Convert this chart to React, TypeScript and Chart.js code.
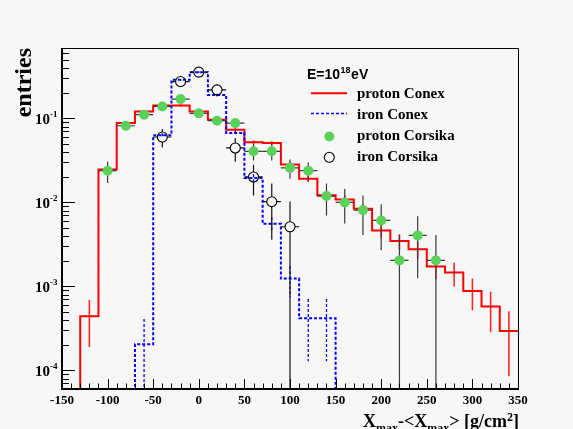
import { useEffect, useRef } from 'react';
import { Chart, registerables } from 'chart.js';
Chart.register(...registerables);

// ---------- data ----------
const binEdges = [-150, -130, -110, -90, -70, -50, -30, -10, 10, 30, 50, 70, 90, 110, 130, 150, 170, 190, 210, 230, 250, 270, 290, 310, 330, 350];

const protonConex = [0, 4.4e-4, 0.0246, 0.088, 0.121, 0.143, 0.143, 0.121, 0.0965, 0.0734, 0.052, 0.051, 0.0282, 0.0192, 0.0122, 0.0108, 0.0084, 0.00463, 0.00347, 0.00276, 0.00172, 0.00146, 8.8e-4, 5.75e-4, 2.95e-4];
const protonConexErr = [0, 2.5e-4, 1.9e-3, 3.6e-3, 4.2e-3, 4.6e-3, 4.6e-3, 4.2e-3, 3.8e-3, 3.3e-3, 2.8e-3, 2.7e-3, 2.0e-3, 1.7e-3, 1.3e-3, 1.3e-3, 1.1e-3, 8.3e-4, 7.1e-4, 6.4e-4, 5.0e-4, 4.6e-4, 3.6e-4, 2.9e-4, 2.1e-4];

const ironConex = [0, 0, 0, 0, 2.05e-4, 0.063, 0.288, 0.356, 0.19, 0.067, 0.0196, 0.00557, 1.24e-3, 4.18e-4, 4.18e-4, 0, 0, 0, 0, 0, 0, 0, 0, 0, 0];
const ironConexErr = [0, 0, 0, 0, 2.05e-4, 3.6e-3, 7.7e-3, 8.5e-3, 6.2e-3, 3.7e-3, 2.0e-3, 1.07e-3, 5.0e-4, 2.9e-4, 2.9e-4, 0, 0, 0, 0, 0, 0, 0, 0, 0, 0];

const protonCorsikaX = [-100, -80, -60, -40, -20, 0, 20, 40, 60, 80, 100, 120, 140, 160, 180, 200, 220, 240, 260];
const protonCorsikaY = [0.0239, 0.0819, 0.111, 0.139, 0.17, 0.115, 0.094, 0.088, 0.0406, 0.0406, 0.0258, 0.0239, 0.0119, 0.010, 0.0081, 0.0061, 0.00204, 0.00405, 0.00204];
const protonCorsikaErr = [0.0069, 0.01, 0.012, 0.013, 0.015, 0.012, 0.011, 0.01, 0.009, 0.009, 0.0067, 0.006, 0.0049, 0.0044, 0.004, 0.0034, 0.00204, 0.0028, 0.00204];

const ironCorsikaX = [-40, -20, 0, 20, 40, 60, 80, 100];
const ironCorsikaY = [0.0601, 0.275, 0.356, 0.219, 0.0445, 0.0201, 0.0102, 0.00513];
const ironCorsikaErr = [0.015, 0.035, 0.03, 0.035, 0.014, 0.008, 0.0066, 0.0051];

const xTickLabels = [-150, -100, -50, 0, 50, 100, 150, 200, 250, 300, 350];
const yDecadeExponents = [-4, -3, -2, -1];
const legendLabels = ['proton Conex', 'iron Conex', 'proton Corsika', 'iron Corsika'];
const legendTitle = { base: 'E=10', sup: '18', unit: 'eV' };
const xMin = -150;
const xMax = 350;
const yMin = 6e-5;
const yMax = 0.69;
const pointHalfBin = 10;

// ---------- styles ----------
const BG = '#f7f7f7';
const RED = '#ff0000';
const BLUE = '#0000ff';
const GREEN = '#5ad25a';
const SERIF = '"Liberation Serif", "Times New Roman", serif';
const SANS = '"Liberation Sans", Arial, sans-serif';

// empty bins are drawn on the axis floor, as ROOT does on a log axis
const histPoints = (vals: number[]) =>
  binEdges.map((x, i) => {
    const v = vals[Math.min(i, vals.length - 1)];
    return { x, y: v > 0 ? v : yMin };
  });
const binCenters = binEdges.slice(0, -1).map((e, i) => (e + binEdges[i + 1]) / 2);

type ErrSpec = {
  xs: number[]; ys: number[]; es: number[];
  color: string; width: number; dash?: number[]; xHalf?: number; gap?: number;
};

// indexed by dataset index
const errorSpecs: Record<number, ErrSpec> = {
  0: { xs: ironCorsikaX, ys: ironCorsikaY, es: ironCorsikaErr, color: '#111', width: 1.2, xHalf: pointHalfBin, gap: 5 },
  1: { xs: protonCorsikaX, ys: protonCorsikaY, es: protonCorsikaErr, color: '#3a3a3a', width: 1.2, xHalf: pointHalfBin },
  2: { xs: binCenters, ys: ironConex, es: ironConexErr, color: BLUE, width: 1.3, dash: [3, 2] },
  3: { xs: binCenters, ys: protonConex, es: protonConexErr, color: 'rgba(255,0,0,0.85)', width: 1.6 },
};

const rootPlugin = {
  id: 'rootStyle',
  beforeDraw(chart: any) {
    const ctx = chart.ctx;
    ctx.save();
    ctx.fillStyle = BG;
    ctx.fillRect(0, 0, chart.width, chart.height);
    ctx.restore();
  },
  beforeDatasetDraw(chart: any, args: any) {
    const spec = errorSpecs[args.index];
    if (!spec) return;
    const ctx = chart.ctx;
    const xs = chart.scales.x;
    const ys = chart.scales.y;
    const { left, right, top, bottom } = chart.chartArea;
    ctx.save();
    ctx.beginPath();
    ctx.rect(left, top, right - left, bottom - top);
    ctx.clip();
    ctx.strokeStyle = spec.color;
    ctx.lineWidth = spec.width;
    ctx.setLineDash(spec.dash || []);
    const gap = spec.gap || 0;
    for (let i = 0; i < spec.xs.length; i++) {
      const v = spec.ys[i];
      const e = spec.es[i];
      if (!(v > 0) || !(e > 0)) continue;
      const px = xs.getPixelForValue(spec.xs[i]);
      const py = ys.getPixelForValue(v);
      const pHi = ys.getPixelForValue(v + e);
      const pLo = v - e > 0 ? ys.getPixelForValue(v - e) : bottom + 3;
      ctx.beginPath();
      if (gap) {
        if (py - gap > pHi) { ctx.moveTo(px, pHi); ctx.lineTo(px, py - gap); }
        if (pLo > py + gap) { ctx.moveTo(px, py + gap); ctx.lineTo(px, pLo); }
      } else {
        ctx.moveTo(px, pHi);
        ctx.lineTo(px, pLo);
      }
      if (spec.xHalf) {
        const xl = xs.getPixelForValue(spec.xs[i] - spec.xHalf);
        const xr = xs.getPixelForValue(spec.xs[i] + spec.xHalf);
        ctx.moveTo(xl, py);
        ctx.lineTo(px - gap, py);
        ctx.moveTo(px + gap, py);
        ctx.lineTo(xr, py);
      }
      ctx.stroke();
    }
    ctx.restore();
  },
  afterDraw(chart: any) {
    const ctx = chart.ctx;
    const xs = chart.scales.x;
    const ys = chart.scales.y;
    const { left, right, top, bottom } = chart.chartArea;
    ctx.save();
    ctx.setLineDash([]);
    ctx.strokeStyle = '#000';

    // frame
    ctx.lineWidth = 1;
    ctx.beginPath();
    ctx.moveTo(left, top + 0.5);
    ctx.lineTo(right + 0.5, top + 0.5);
    ctx.lineTo(right + 0.5, bottom);
    ctx.stroke();
    ctx.lineWidth = 2;
    ctx.beginPath();
    ctx.moveTo(left, top);
    ctx.lineTo(left, bottom);
    ctx.lineTo(right + 1, bottom);
    ctx.stroke();

    // x ticks (inward)
    ctx.lineWidth = 1;
    ctx.beginPath();
    for (let v = xMin; v <= xMax; v += 10) {
      const px = Math.round(xs.getPixelForValue(v)) + 0.5;
      const major = xTickLabels.includes(v);
      ctx.moveTo(px, bottom);
      ctx.lineTo(px, bottom - (major ? 10 : 5.5));
    }
    ctx.stroke();

    // y ticks (inward)
    ctx.beginPath();
    for (let ex = -5; ex <= 0; ex++) {
      for (let k = 1; k <= 9; k++) {
        const val = k * Math.pow(10, ex);
        if (val < yMin * 0.999 || val > yMax) continue;
        const py = Math.round(ys.getPixelForValue(val)) + 0.5;
        ctx.moveTo(left, py);
        ctx.lineTo(left + (k === 1 ? 13 : 7), py);
      }
    }
    ctx.stroke();

    // y labels 10^n
    ctx.fillStyle = '#000';
    for (const ex of yDecadeExponents) {
      const py = ys.getPixelForValue(Math.pow(10, ex));
      ctx.font = `bold 15px ${SERIF}`;
      ctx.textAlign = 'right';
      ctx.textBaseline = 'alphabetic';
      ctx.fillText('10', 50, py + 5.5);
      ctx.font = `bold 9px ${SERIF}`;
      ctx.textAlign = 'left';
      ctx.fillText(String(ex), 50, py - 1.5);
    }

    // y title
    ctx.save();
    ctx.translate(30.5, top);
    ctx.rotate(-Math.PI / 2);
    ctx.font = `bold 24px ${SERIF}`;
    ctx.textAlign = 'right';
    ctx.textBaseline = 'alphabetic';
    ctx.fillText('entries', 0, 0);
    ctx.restore();

    // x title with sub/superscripts
    const segs: [string, string, number][] = [
      ['X', `bold 18px ${SERIF}`, 427],
      ['max', `bold 12px ${SERIF}`, 432],
      ['-<X', `bold 18px ${SERIF}`, 427],
      ['max', `bold 12px ${SERIF}`, 432],
      ['> [g/cm', `bold 18px ${SERIF}`, 427],
      ['2', `bold 12px ${SERIF}`, 421],
      [']', `bold 18px ${SERIF}`, 427],
    ];
    let total = 0;
    for (const [t, f] of segs) { ctx.font = f; total += ctx.measureText(t).width; }
    let cx = right + 1 - total;
    ctx.textAlign = 'left';
    for (const [t, f, by] of segs) {
      ctx.font = f;
      ctx.fillText(t, cx, by);
      cx += ctx.measureText(t).width;
    }

    // legend
    ctx.font = `bold 14px ${SANS}`;
    ctx.fillText(legendTitle.base, 307, 78.5);
    let lx = 307 + ctx.measureText(legendTitle.base).width;
    ctx.font = `bold 9px ${SANS}`;
    ctx.fillText(legendTitle.sup, lx + 0.5, 73);
    lx += ctx.measureText(legendTitle.sup).width + 1;
    ctx.font = `bold 14px ${SANS}`;
    ctx.fillText(legendTitle.unit, lx, 78.5);

    const rowBase = [97.5, 118.5, 139.5, 160.5];
    ctx.font = `bold 15px ${SERIF}`;
    legendLabels.forEach((lab, i) => ctx.fillText(lab, 357, rowBase[i]));

    ctx.strokeStyle = RED;
    ctx.lineWidth = 2;
    ctx.beginPath();
    ctx.moveTo(311, 93.3);
    ctx.lineTo(347, 93.3);
    ctx.stroke();

    ctx.strokeStyle = BLUE;
    ctx.lineWidth = 1.6;
    ctx.setLineDash([3, 2]);
    ctx.beginPath();
    ctx.moveTo(311, 113.5);
    ctx.lineTo(347, 113.5);
    ctx.stroke();
    ctx.setLineDash([]);

    ctx.fillStyle = GREEN;
    ctx.beginPath();
    ctx.arc(329.3, 136.5, 5, 0, Math.PI * 2);
    ctx.fill();

    ctx.strokeStyle = '#000';
    ctx.lineWidth = 1.1;
    ctx.beginPath();
    ctx.arc(329.3, 157.3, 5, 0, Math.PI * 2);
    ctx.stroke();

    ctx.restore();
  },
};

export default function App() {
  const ref = useRef<HTMLCanvasElement | null>(null);
  useEffect(() => {
    if (!ref.current) return;
    const chart = new Chart(ref.current, {
      type: 'line',
      data: {
        datasets: [
          {
            type: 'scatter',
            label: 'iron Corsika',
            data: ironCorsikaX.map((x, i) => ({ x, y: ironCorsikaY[i] })),
            showLine: false,
            pointRadius: 5,
            pointBackgroundColor: 'rgba(0,0,0,0)',
            pointBorderColor: '#000',
            pointBorderWidth: 1.1,
          } as any,
          {
            type: 'scatter',
            label: 'proton Corsika',
            data: protonCorsikaX.map((x, i) => ({ x, y: protonCorsikaY[i] })),
            showLine: false,
            pointRadius: 5,
            pointBackgroundColor: GREEN,
            pointBorderColor: GREEN,
            pointBorderWidth: 0,
          } as any,
          {
            type: 'line',
            label: 'iron Conex',
            data: histPoints(ironConex),
            stepped: 'before',
            borderColor: BLUE,
            borderWidth: 2,
            borderDash: [3, 2],
            pointRadius: 0,
            fill: false,
          } as any,
          {
            type: 'line',
            label: 'proton Conex',
            data: histPoints(protonConex),
            stepped: 'before',
            borderColor: RED,
            borderWidth: 2,
            pointRadius: 0,
            fill: false,
          } as any,
        ],
      },
      options: {
        responsive: false,
        devicePixelRatio: 1,
        animation: false,
        layout: { padding: { left: 62, right: 55, top: 48, bottom: 0 }, autoPadding: false } as any,
        plugins: { legend: { display: false }, tooltip: { enabled: false } },
        scales: {
          x: {
            type: 'linear',
            min: xMin,
            max: xMax,
            afterBuildTicks: (s: any) => { s.ticks = xTickLabels.map((v) => ({ value: v })); },
            afterFit: (s: any) => { s.height = 40; },
            ticks: {
              callback: (v: any) => String(v),
              font: { family: SERIF, weight: 'bold', size: 13 },
              color: '#000',
              padding: 4,
              maxRotation: 0,
              autoSkip: false,
            },
            grid: { display: false, drawTicks: false },
            border: { display: false },
          },
          y: {
            type: 'logarithmic',
            min: yMin,
            max: yMax,
            display: false,
          },
        },
      } as any,
      plugins: [rootPlugin as any],
    });
    return () => chart.destroy();
  }, []);
  return (
    <div style={{ position: 'fixed', left: 0, top: 0, width: 573, height: 429, background: BG }}>
      <canvas ref={ref} width={573} height={429} style={{ display: 'block' }} />
    </div>
  );
}
